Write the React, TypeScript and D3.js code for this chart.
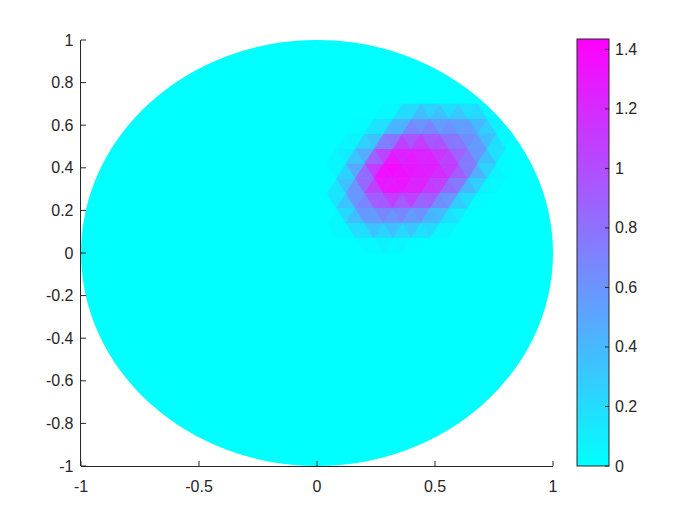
import React from "react";
import * as d3 from "d3";

const xTicks = [-1, -0.5, 0, 0.5, 1];
const yTicks = [-1, -0.8, -0.6, -0.4, -0.2, 0, 0.2, 0.4, 0.6, 0.8, 1];
const cTicks = [0, 0.2, 0.4, 0.6, 0.8, 1, 1.2, 1.4];
const cMax = 1.435;

// triangular mesh nodes covering the bump region (rest of the disk is 0)
const rowY = [0.7, 0.63, 0.56, 0.49, 0.42, 0.35, 0.28, 0.21, 0.14, 0.07, 0.0];
const evenRowX = [0.04, 0.12, 0.2, 0.28, 0.36, 0.44, 0.52, 0.6, 0.68, 0.76, 0.84];
const oddRowX = [0.08, 0.16, 0.24, 0.32, 0.4, 0.48, 0.56, 0.64, 0.72, 0.8];
const rowValues = [
  [0, 0, 0, 0, 0, 0.15, 0.1, 0, 0, 0, 0],
  [0, 0, 0, 0.1, 0.45, 0.5, 0.45, 0.5, 0.15, 0],
  [0, 0, 0.05, 0.4, 0.75, 0.85, 0.75, 0.65, 0.55, 0.1, 0],
  [0, 0.15, 0.55, 1.2, 1.25, 1.2, 0.95, 0.7, 0.45, 0],
  [0, 0.15, 0.7, 1.4, 1.3, 1.3, 1.25, 1.0, 0.6, 0.05, 0],
  [0, 0.6, 1.2, 1.435, 1.3, 1.25, 1.1, 0.65, 0.1, 0],
  [0, 0.45, 0.75, 1.25, 1.25, 1.2, 0.9, 0.5, 0.05, 0, 0],
  [0, 0.55, 0.75, 0.8, 0.75, 0.65, 0.35, 0, 0, 0],
  [0, 0.1, 0.45, 0.5, 0.5, 0.45, 0.15, 0, 0, 0, 0],
  [0, 0, 0.1, 0.1, 0.05, 0, 0, 0, 0, 0],
  [0, 0, 0, 0, 0, 0, 0, 0, 0, 0, 0],
];

const W = 700;
const H = 525;
const plot = { left: 81, right: 553, top: 40, bottom: 466 };
const cbar = { left: 577, right: 609, top: 39, bottom: 466 };

export default function App() {
  const x = d3.scaleLinear().domain([-1, 1]).range([plot.left, plot.right]);
  const y = d3.scaleLinear().domain([-1, 1]).range([plot.bottom, plot.top]);
  const cy = d3.scaleLinear().domain([0, cMax]).range([cbar.bottom, cbar.top]);
  const cmap = d3.interpolateRgb("#00ffff", "#ff00ff");
  const color = (v: number) => cmap(Math.max(0, Math.min(1, v / cMax)));

  const nodes: { px: number; py: number; v: number }[] = [];
  rowY.forEach((yy, r) => {
    const xs = r % 2 === 0 ? evenRowX : oddRowX;
    xs.forEach((xx, c) => nodes.push({ px: x(xx), py: y(yy), v: rowValues[r][c] }));
  });
  const del = d3.Delaunay.from(nodes, (n) => n.px, (n) => n.py);
  const tris: { pts: string; v: number }[] = [];
  for (let k = 0; k < del.triangles.length; k += 3) {
    const tri = [nodes[del.triangles[k]], nodes[del.triangles[k + 1]], nodes[del.triangles[k + 2]]];
    const v = d3.mean(tri, (n) => n.v) as number;
    tris.push({ pts: tri.map((n) => `${n.px},${n.py}`).join(" "), v });
  }

  const gradId = "cbarGrad";
  const stops = d3.range(0, 1.0001, 0.1);
  const font = "'Liberation Sans', Arial, Helvetica, sans-serif";
  const tc = "#262626";
  const fs = 16;

  return (
    <svg width={W} height={H} style={{ position: "absolute", left: 0, top: 0, background: "#fff" }}>
      <defs>
        <linearGradient id={gradId} x1="0" y1="1" x2="0" y2="0">
          {stops.map((s) => (
            <stop key={s} offset={s} stopColor={cmap(s)} />
          ))}
        </linearGradient>
        <clipPath id="diskClip">
          <ellipse cx={x(0)} cy={y(0)} rx={x(1) - x(0)} ry={y(0) - y(1)} />
        </clipPath>
      </defs>
      <rect width={W} height={H} fill="#fff" />
      <ellipse cx={x(0)} cy={y(0)} rx={x(1) - x(0)} ry={y(0) - y(1)} fill={color(0)} />
      <g clipPath="url(#diskClip)">
        {tris.map((t, k) => (
          <polygon key={k} points={t.pts} fill={color(t.v)} stroke={color(t.v)} strokeWidth={0.5} />
        ))}
      </g>
      {/* axes */}
      <g fill="none" stroke={tc} strokeWidth={1}>
        <line x1={plot.left} x2={plot.right} y1={plot.bottom + 0.5} y2={plot.bottom + 0.5} />
        <line x1={plot.left - 0.5} x2={plot.left - 0.5} y1={plot.top} y2={plot.bottom} />
        {xTicks.map((t) => (
          <line key={t} x1={x(t)} x2={x(t)} y1={plot.bottom} y2={plot.bottom - 5} />
        ))}
        {yTicks.map((t) => (
          <line key={t} x1={plot.left} x2={plot.left + 5} y1={y(t)} y2={y(t)} />
        ))}
      </g>
      <g fontFamily={font} fontSize={fs} fill={tc}>
        {xTicks.map((t) => (
          <text key={t} x={x(t)} y={plot.bottom + 26} textAnchor="middle">
            {String(t)}
          </text>
        ))}
        {yTicks.map((t) => (
          <text key={t} x={plot.left - 7.5} y={y(t) + 5.5} textAnchor="end">
            {String(t)}
          </text>
        ))}
      </g>
      {/* colorbar */}
      <rect
        x={cbar.left}
        y={cbar.top}
        width={cbar.right - cbar.left}
        height={cbar.bottom - cbar.top}
        fill={`url(#${gradId})`}
        stroke={tc}
        strokeWidth={1}
      />
      <g stroke={tc} strokeWidth={1}>
        {cTicks.map((t) => (
          <line key={t} x1={cbar.right} x2={cbar.right - 4} y1={cy(t)} y2={cy(t)} />
        ))}
      </g>
      <g fontFamily={font} fontSize={fs} fill={tc}>
        {cTicks.map((t) => (
          <text key={t} x={cbar.right + 6} y={cy(t) + 5.5} textAnchor="start">
            {String(t)}
          </text>
        ))}
      </g>
    </svg>
  );
}
